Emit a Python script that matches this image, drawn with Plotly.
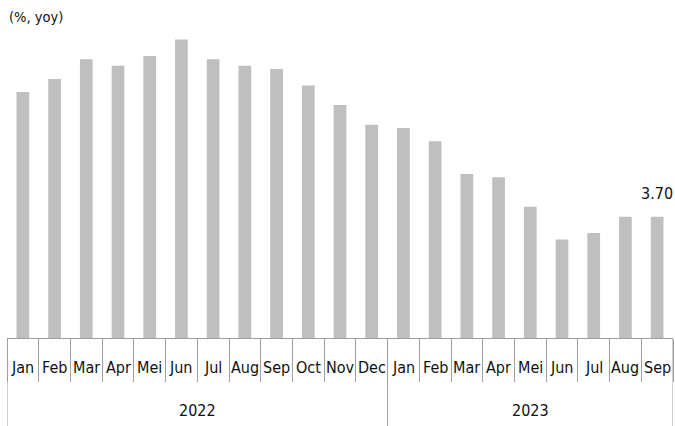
import plotly.graph_objects as go

# US CPI inflation, year on year (%)
years = ["2022", "2023"]
months_2022 = ["Jan", "Feb", "Mar", "Apr", "Mei", "Jun", "Jul", "Aug", "Sep", "Oct", "Nov", "Dec"]
months_2023 = ["Jan", "Feb", "Mar", "Apr", "Mei", "Jun", "Jul", "Aug", "Sep"]
values_2022 = [7.5, 7.9, 8.5, 8.3, 8.6, 9.1, 8.5, 8.3, 8.2, 7.7, 7.1, 6.5]
values_2023 = [6.4, 6.0, 5.0, 4.9, 4.0, 3.0, 3.2, 3.7, 3.70]
unit_label = "(%, yoy)"

months = months_2022 + months_2023
values = values_2022 + values_2023
year_of = [years[0]] * len(months_2022) + [years[1]] * len(months_2023)
categories = [f"{m} {y}" for m, y in zip(months, year_of)]

FONT = "DejaVu Sans Condensed, Liberation Sans Narrow, sans-serif"
TEXT = "#111111"
RULE = "#a0a0a0"

fig = go.Figure(
    go.Bar(
        x=categories,
        y=values,
        marker=dict(color="#bfbfbf", line=dict(width=0)),
        hoverinfo="skip",
    )
)

annotations = []
# month labels under the axis
for i, m in enumerate(months):
    annotations.append(dict(
        x=i, y=0, xref="x", yref="paper", text=m, showarrow=False,
        yanchor="middle", yshift=-29.5, font=dict(size=16, color=TEXT, family=FONT),
    ))

# year labels centred under each group, and full-height group dividers
shapes = []
start = 0
for y, group in zip(years, [months_2022, months_2023]):
    end = start + len(group) - 1
    annotations.append(dict(
        x=(start + end) / 2, y=0, xref="x", yref="paper", text=y, showarrow=False,
        yanchor="middle", yshift=-72, font=dict(size=16, color=TEXT, family=FONT),
    ))
    shapes.append(dict(
        type="line", xref="x", yref="paper", ysizemode="pixel", yanchor=0,
        x0=start - 0.5, x1=start - 0.5, y0=0, y1=-88,
        line=dict(color=RULE, width=1),
    ))
    start = end + 1
shapes.append(dict(
    type="line", xref="x", yref="paper", ysizemode="pixel", yanchor=0,
    x0=start - 0.5, x1=start - 0.5, y0=0, y1=-88,
    line=dict(color=RULE, width=1),
))

# value label over the latest bar
annotations.append(dict(
    x=len(values) - 1, y=values[-1], xref="x", yref="y", text=f"{values[-1]:.2f}",
    showarrow=False, yanchor="middle", yshift=23,
    font=dict(size=16, color=TEXT, family=FONT),
))

# unit caption
annotations.append(dict(
    x=0, y=1, xref="paper", yref="paper", text=unit_label, showarrow=False,
    xanchor="left", yanchor="middle", yshift=-7,
    font=dict(size=14.5, color=TEXT, family=FONT),
))

fig.update_layout(
    width=675,
    height=426,
    margin=dict(l=7, r=2, t=10, b=88),
    paper_bgcolor="white",
    plot_bgcolor="white",
    bargap=0.6,
    showlegend=False,
    annotations=annotations,
    shapes=shapes,
    font=dict(family=FONT, color=TEXT),
)
fig.update_xaxes(
    type="category",
    range=[-0.5, len(values) - 0.5],
    showticklabels=False,
    ticks="outside",
    tickson="boundaries",
    ticklen=43,
    tickcolor=RULE,
    tickwidth=1,
    showline=True,
    linecolor=RULE,
    linewidth=1,
    showgrid=False,
    zeroline=False,
)
fig.update_yaxes(
    range=[0, 10],
    visible=False,
    showgrid=False,
    zeroline=False,
)

fig.write_html("out.html")
